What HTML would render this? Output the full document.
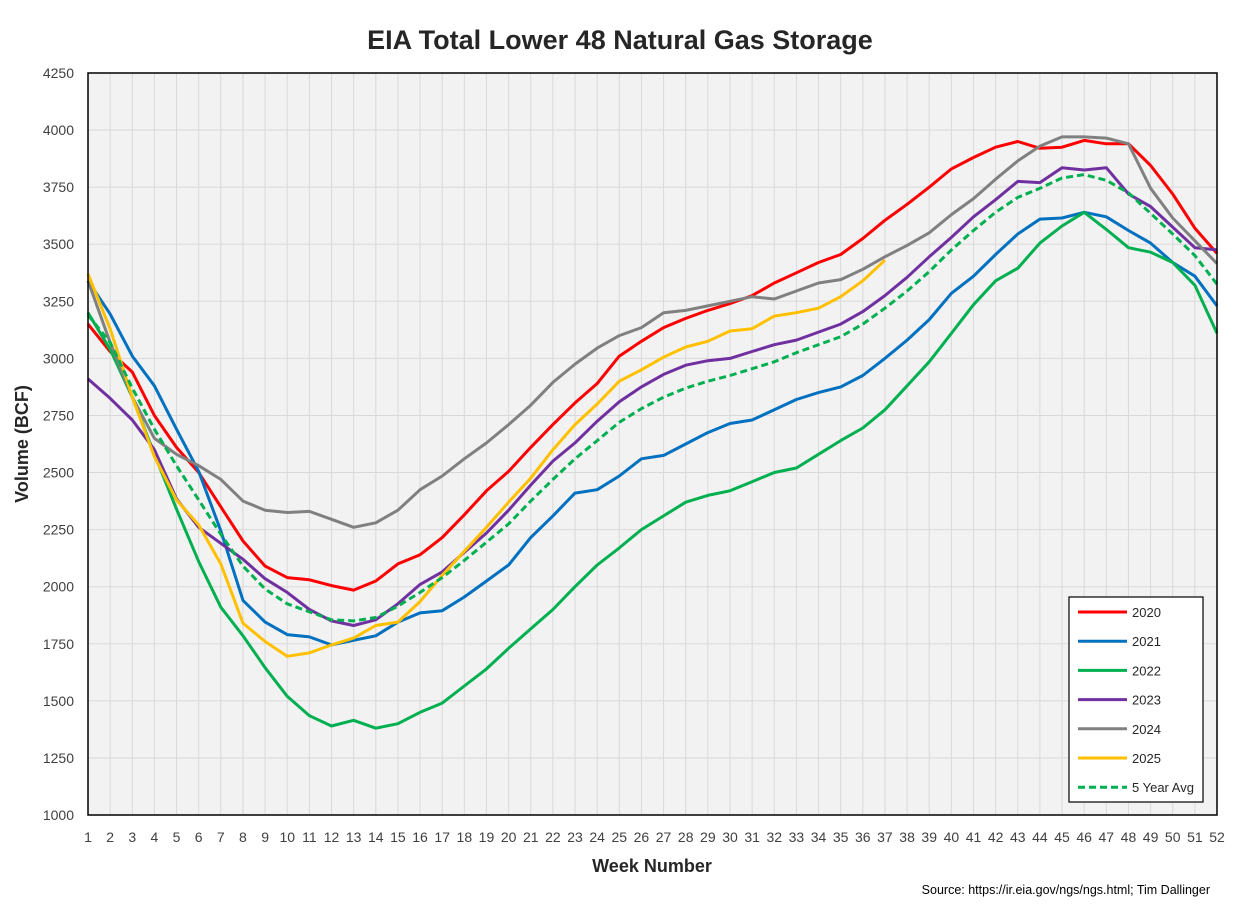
<!DOCTYPE html>
<html><head><meta charset="utf-8"><style>
html,body{margin:0;padding:0;background:#fff;}
svg{display:block;font-family:"Liberation Sans",sans-serif;}
</style></head><body>
<svg id="chart" width="1243" height="906" viewBox="0 0 1243 906">
<text x="620" y="49" text-anchor="middle" font-size="27" font-weight="bold" fill="#262626">EIA Total Lower 48 Natural Gas Storage</text>
<rect x="88" y="73" width="1129" height="742" fill="#f2f2f2"/>
<g id="grid"></g>
<g id="series"></g>
<rect x="88" y="73" width="1129" height="742" fill="none" stroke="#000" stroke-width="1.5"/>
<g id="yticks"></g><g id="xticks"></g>
<text transform="translate(28,444) rotate(-90)" text-anchor="middle" font-size="18" font-weight="bold" fill="#262626">Volume (BCF)</text>
<text x="652" y="872" text-anchor="middle" font-size="18" font-weight="bold" fill="#262626">Week Number</text>
<text x="1210" y="894" text-anchor="end" font-size="12.5" fill="#000">Source: https://ir.eia.gov/ngs/ngs.html; Tim Dallinger</text>
<g id="legend"></g>
</svg>
<script>
const weeks = Array.from({length:52},(_,i)=>i+1);
const yTicks = [1000,1250,1500,1750,2000,2250,2500,2750,3000,3250,3500,3750,4000,4250];
const s2020 = [3150,3030,2940,2750,2610,2500,2350,2200,2090,2040,2030,2005,1985,2025,2100,2140,2215,2315,2420,2505,2610,2710,2805,2890,3010,3075,3135,3175,3210,3240,3275,3330,3375,3420,3455,3525,3605,3675,3750,3830,3880,3925,3950,3920,3925,3955,3940,3940,3845,3720,3570,3460];
const s2021 = [3340,3195,3010,2880,2690,2505,2245,1940,1845,1790,1780,1745,1765,1785,1845,1885,1895,1955,2025,2095,2215,2310,2410,2425,2485,2560,2575,2625,2675,2715,2730,2775,2820,2850,2875,2925,3000,3080,3170,3285,3360,3455,3545,3610,3615,3640,3620,3560,3505,3420,3360,3230];
const s2022 = [3200,3040,2830,2580,2340,2110,1910,1785,1645,1520,1435,1390,1415,1380,1400,1450,1490,1565,1640,1730,1815,1900,2000,2095,2170,2250,2310,2370,2400,2420,2460,2500,2520,2580,2640,2695,2775,2880,2985,3110,3235,3340,3395,3505,3580,3640,3565,3485,3465,3420,3320,3110];
const s2023 = [2910,2825,2730,2600,2385,2260,2190,2120,2035,1975,1900,1850,1830,1855,1925,2010,2065,2150,2235,2335,2445,2550,2630,2725,2810,2875,2930,2970,2990,3000,3030,3060,3080,3115,3150,3205,3275,3355,3445,3530,3620,3695,3775,3770,3835,3825,3835,3720,3665,3575,3485,3475];
const s2024 = [3340,3070,2830,2650,2580,2530,2470,2375,2335,2325,2330,2295,2260,2280,2335,2425,2485,2560,2630,2710,2795,2895,2975,3045,3100,3135,3200,3210,3230,3250,3270,3260,3295,3330,3345,3390,3445,3495,3550,3630,3700,3785,3865,3930,3970,3970,3965,3940,3745,3615,3515,3415];
const s2025 = [3370,3130,2830,2570,2380,2270,2100,1840,1760,1695,1710,1745,1775,1830,1845,1935,2050,2155,2260,2370,2475,2600,2710,2800,2900,2950,3005,3050,3075,3120,3130,3185,3200,3220,3270,3340,3430];
const sAvg = [3190,3070,2870,2690,2530,2380,2230,2090,1990,1925,1890,1855,1850,1865,1915,1975,2040,2115,2195,2275,2375,2470,2560,2640,2720,2780,2830,2870,2900,2925,2955,2985,3025,3060,3095,3150,3220,3295,3380,3475,3560,3640,3705,3745,3790,3805,3780,3725,3635,3545,3450,3325];
const seriesNames = ["2020","2021","2022","2023","2024","2025","5 Year Avg"];

const NS="http://www.w3.org/2000/svg";
const X0=88,X1=1217,Y0=815,Y1=73;
const xs=w=>X0+(w-1)*(X1-X0)/51;
const ys=v=>Y0-(v-1000)*(Y0-Y1)/3250;
function mk(tag,attrs,parent){const e=document.createElementNS(NS,tag);for(const k in attrs)e.setAttribute(k,attrs[k]);parent.appendChild(e);return e;}
const grid=document.getElementById('grid'),yt=document.getElementById('yticks'),xt=document.getElementById('xticks');
yTicks.forEach(v=>{
  const l=mk('line',{x1:X0,x2:X1,y1:ys(v),y2:ys(v),stroke:'#d9d9d9','stroke-width':1},grid);
  
  
  const t=mk('text',{x:74,y:ys(v)+5,'text-anchor':'end','font-size':14,fill:'#404040'},yt);
  t.textContent=v;
  
  
});
weeks.forEach(w=>{
  const l=mk('line',{x1:xs(w),x2:xs(w),y1:Y1,y2:Y0,stroke:'#d9d9d9','stroke-width':1},grid);
  
  
  const t=mk('text',{x:xs(w),y:842,'text-anchor':'middle','font-size':14,fill:'#404040'},xt);
  t.textContent=w;
  
  
});
const sData=[s2020,s2021,s2022,s2023,s2024,s2025,sAvg];
const colors=['#ff0000','#0070c0','#00b050','#7030a0','#808080','#ffc000','#00b050'];
const sg=document.getElementById('series');
sData.forEach((d,i)=>{
  const pts=d.map((v,j)=>xs(j+1).toFixed(1)+','+ys(v).toFixed(1)).join(' ');
  const attrs={points:pts,fill:'none',stroke:colors[i],'stroke-width':3,'stroke-linejoin':'round'};
  if(i===6)attrs['stroke-dasharray']='7,4';
  const p=mk('polyline',attrs,sg);
  
  
});
const lg=document.getElementById('legend');
const box=mk('rect',{x:1069,y:597,width:134,height:205,fill:'#fff',stroke:'#000','stroke-width':1.2},lg);


seriesNames.forEach((n,i)=>{
  const y=612+i*29.2;
  const la={x1:1078,x2:1127,y1:y,y2:y,stroke:colors[i],'stroke-width':3};
  if(i===6)la['stroke-dasharray']='7,4';
  const l=mk('line',la,lg);
  
  
  const t=mk('text',{x:1132,y:y+5,'font-size':13,fill:'#262626'},lg);
  t.textContent=n;
  
  
});
</script>
</body></html>
